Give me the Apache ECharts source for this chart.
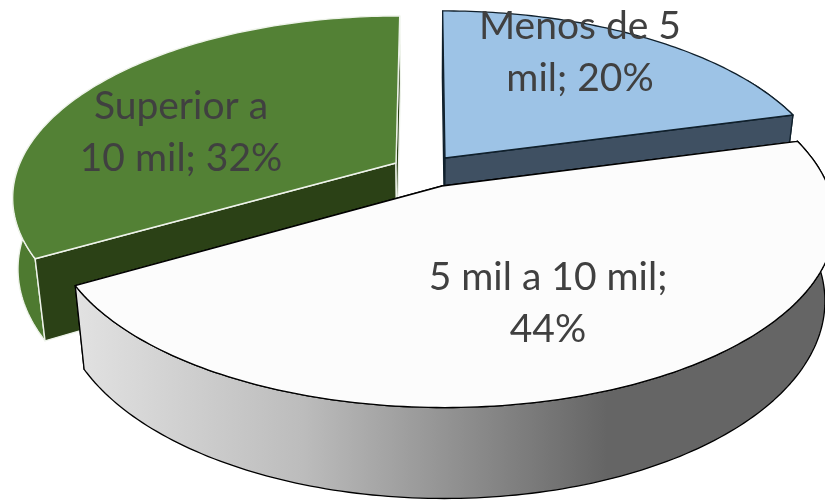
<!DOCTYPE html>
<html>
<head>
<meta charset="utf-8">
<style>html,body{margin:0;padding:0;background:#fff}#chart{width:825px;height:502px}</style>
<script src="https://cdn.jsdelivr.net/npm/echarts@6/dist/echarts.min.js"></script>
</head>
<body>
<div id="chart"></div>
<script>
// Income bands and their shares, in the order the pie runs clockwise from 12 o'clock
const categories = ['Menos de 5 mil', '5 mil a 10 mil', 'Superior a 10 mil'];
const shares = [20, 44, 32];
const labelLines = [['Menos de 5', 'mil; 20%'], ['5 mil a 10 mil;', '44%'], ['Superior a', '10 mil; 32%']];

// Perspective disc: rx/ry are the radii, persp shrinks the far side, vx is the x the radii converge on.
// wallBulge pushes the lower wall edge outward towards the far end of the visible wall.
const sliceLayout = [
  { apex: [445, 158], rx: 378, ry: 174, vx: 430, label: [580, 52], z: 1, cutOverWall: true, wallBulge: 0 },
  { apex: [442, 186], rx: 386, ry: 181, vx: 430, label: [548, 303], z: 3, cutOverWall: false, wallBulge: 0 },
  { apex: [396, 163], rx: 376, ry: 174, vx: 420, label: [181, 132], z: 2, cutOverWall: true, wallBulge: 8 }
];
const persp = 0.183;
const shrink = 0.975, shrinkX = 430;
const sliceStyle = [
  { top: '#9dc3e6', cut: '#3f5062', rim: '#3f5062', line: '#10202c', lineW: 1.3 },
  { top: '#fcfcfc', cut: '#888888', line: '#000000', lineW: 1.3,
    rim: { type: 'linear', x: 0, y: 0, x2: 1, y2: 0, colorStops: [
      { offset: 0, color: '#e2e2e2' }, { offset: 0.3, color: '#bcbcbc' },
      { offset: 0.7, color: '#656565' }, { offset: 1, color: '#656565' }] } },
  { top: '#538135', cut: '#2b4116', rim: '#4e7a30', line: '#eef3ea', lineW: 1.4 }
];
const textColor = '#404040';

const total = shares.reduce((a, b) => a + b, 0);

function topPoint(cfg, deg) {
  const t = deg * Math.PI / 180, u = Math.sin(t), v = Math.cos(t), w = 1 + persp * v;
  return [cfg.vx + (cfg.apex[0] - cfg.vx + cfg.rx * u) / w, cfg.apex[1] - cfg.ry * v / w];
}
function dropped(p) {
  return [shrinkX + (p[0] - shrinkX) * shrink, p[1] + 82 + (p[1] - 258) * 0.06];
}
function arc(cfg, a0, a1) {
  const pts = [], n = Math.max(2, Math.ceil(Math.abs(a1 - a0)));
  for (let k = 0; k <= n; k++) pts.push(topPoint(cfg, a0 + (a1 - a0) * k / n));
  return pts;
}

function renderSlice(params, api) {
  const i = api.value(0), val = api.value(1);
  let before = 0;
  for (let k = 0; k < i; k++) before += shares[k];
  const a0 = before / total * 360, a1 = (before + val) / total * 360;
  const cfg = sliceLayout[i], st = sliceStyle[i], z = cfg.z * 10;
  const apex = cfg.apex, rim = arc(cfg, a0, a1);
  const face = (pts, fill, z2) => ({
    type: 'polygon', z2, shape: { points: pts },
    style: { fill, stroke: st.line, lineWidth: st.lineW, lineJoin: 'round' }
  });
  const children = [];

  // Outer wall, only the part that faces the viewer
  const wall = rim.filter((p, k) => { const d = a0 + (a1 - a0) * k / (rim.length - 1); return d > 60 && d < 272; });
  if (wall.length > 1) {
    const lower = wall.map((p, k) => {
      const q = dropped(p);
      return [q[0] - cfg.wallBulge * k / (wall.length - 1), q[1]];
    });
    children.push(face(wall.concat(lower.reverse()), st.rim, z + 1));
  }
  // Cut faces on both radii
  [rim[0], rim[rim.length - 1]].forEach((p) => {
    children.push(face([apex, p, dropped(p), dropped(apex)], st.cut, cfg.cutOverWall ? z + 2 : z));
  });
  // Top of the slice
  children.push(face([apex].concat(rim), st.top, z + 3));
  // Label
  children.push({
    type: 'text', z2: 100,
    style: {
      text: labelLines[i].join('\n'), x: cfg.label[0], y: cfg.label[1],
      align: 'center', verticalAlign: 'middle', fill: textColor,
      font: '39px Lato, "Open Sans", sans-serif', lineHeight: 52
    }
  });
  return { type: 'group', children };
}

const chart = echarts.init(document.getElementById('chart'), null, { renderer: 'canvas' });
chart.setOption({
  animation: false,
  backgroundColor: '#ffffff',
  series: [{
    type: 'custom',
    coordinateSystem: 'none',
    renderItem: renderSlice,
    silent: true,
    data: shares.map((v, i) => ({ name: categories[i], value: [i, v] }))
  }]
});
</script>
</body>
</html>
